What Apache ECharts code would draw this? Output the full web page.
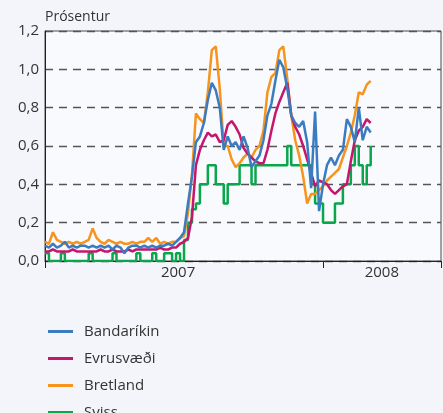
<!DOCTYPE html>
<html>
<head>
<meta charset="utf-8">
<script src="https://cdn.jsdelivr.net/npm/echarts@6/dist/echarts.min.js"></script>
<style>
  html, body { margin: 0; padding: 0; background: #f3f5fa; }
  #chart { width: 443px; height: 413px; }
</style>
</head>
<body>
<div id="chart"></div>
<script>
// sampling: one value every 5 days, starting 16 Jan 2007 (day 15 from 1 Jan 2007)
var startDay = 15
var stepDays = 5

var bandarikin = [
  0.08, 0.07, 0.09, 0.07, 0.08, 0.10, 0.07, 0.08, 0.07, 0.08,
  0.08, 0.07, 0.08, 0.07, 0.08, 0.07, 0.08, 0.06, 0.08, 0.07,
  0.04, 0.07, 0.08, 0.08, 0.07, 0.08, 0.07, 0.08, 0.07, 0.08,
  0.08, 0.09, 0.08, 0.10, 0.12, 0.15, 0.30, 0.44, 0.62, 0.65,
  0.72, 0.84, 0.93, 0.89, 0.80, 0.58, 0.65, 0.60, 0.62, 0.58,
  0.65, 0.59, 0.49, 0.52, 0.55, 0.63, 0.76, 0.82, 0.94, 1.05,
  1.01, 0.90, 0.76, 0.72, 0.70, 0.73, 0.62, 0.38, 0.78, 0.26,
  0.40, 0.50, 0.54, 0.50, 0.55, 0.58, 0.74, 0.70, 0.62, 0.80,
  0.63, 0.70, 0.67
]
var evrusvaedi = [
  0.05, 0.05, 0.06, 0.05, 0.05, 0.05, 0.05, 0.06, 0.05, 0.05,
  0.05, 0.05, 0.05, 0.05, 0.06, 0.05, 0.05, 0.06, 0.05, 0.05,
  0.05, 0.06, 0.05, 0.06, 0.06, 0.06, 0.06, 0.06, 0.06, 0.07,
  0.06, 0.06, 0.07, 0.07, 0.09, 0.10, 0.12, 0.23, 0.50, 0.58,
  0.63, 0.67, 0.65, 0.66, 0.62, 0.63, 0.71, 0.73, 0.70, 0.66,
  0.59, 0.56, 0.54, 0.52, 0.51, 0.51, 0.58, 0.68, 0.77, 0.83,
  0.88, 0.93, 0.76, 0.70, 0.66, 0.60, 0.53, 0.46, 0.39, 0.42,
  0.41, 0.40, 0.37, 0.35, 0.37, 0.39, 0.40, 0.52, 0.63, 0.68,
  0.70, 0.74, 0.72
]
var bretland = [
  0.10, 0.09, 0.15, 0.11, 0.10, 0.09, 0.10, 0.09, 0.10, 0.09,
  0.10, 0.11, 0.17, 0.12, 0.10, 0.09, 0.11, 0.10, 0.09, 0.10,
  0.09, 0.09, 0.10, 0.09, 0.10, 0.10, 0.12, 0.10, 0.12, 0.09,
  0.10, 0.09, 0.10, 0.10, 0.12, 0.13, 0.25, 0.45, 0.77, 0.74,
  0.72, 0.88, 1.10, 1.12, 0.90, 0.60, 0.60, 0.53, 0.49, 0.51,
  0.54, 0.56, 0.54, 0.58, 0.60, 0.68, 0.88, 0.96, 0.98, 1.10,
  1.12, 0.95, 0.76, 0.63, 0.55, 0.44, 0.30, 0.35, 0.35, 0.37,
  0.39, 0.42, 0.44, 0.46, 0.48, 0.54, 0.60, 0.67, 0.76, 0.88,
  0.87, 0.92, 0.94
]
var sviss = [
  0.04, 0.00, 0.00, 0.00, 0.04, 0.00, 0.00, 0.00, 0.00, 0.00,
  0.00, 0.04, 0.00, 0.00, 0.00, 0.00, 0.00, 0.04, 0.00, 0.00,
  0.00, 0.00, 0.00, 0.04, 0.00, 0.00, 0.00, 0.04, 0.00, 0.00,
  0.04, 0.04, 0.00, 0.04, 0.00, 0.11, 0.20, 0.27, 0.30, 0.40,
  0.40, 0.50, 0.50, 0.40, 0.40, 0.30, 0.40, 0.40, 0.40, 0.50,
  0.50, 0.50, 0.40, 0.50, 0.50, 0.50, 0.50, 0.50, 0.50, 0.50,
  0.50, 0.60, 0.50, 0.50, 0.50, 0.50, 0.50, 0.40, 0.30, 0.30,
  0.20, 0.20, 0.20, 0.30, 0.30, 0.40, 0.40, 0.50, 0.60, 0.50,
  0.40, 0.50, 0.60
]

var seriesNames = ['Bandaríkin', 'Evrusvæði', 'Bretland', 'Sviss']
var seriesColors = ['#3b7cc0', '#c3166c', '#f7941d', '#0aa64b']
// x axis in days from 1 Jan 2007
var xMin = 15
var xMax = 513.5
var yearTicks = [15, 365, 513.5]
var yearLabelPos = [182.5, 439]

function pairs(values) {
  return values.map(function (v, i) {
    return [startDay + i * stepDays, v]
  })
}

// one legend block per series, stacked under the chart (last one runs off the bottom)
var legends = seriesNames.map(function (name, i) {
  return {
    orient: 'vertical',
    left: 43,
    top: 318 + i * 27,
    icon: 'rect',
    itemWidth: 25,
    itemHeight: 3,
    textStyle: {
      fontSize: 15,
      lineHeight: 17,
      color: '#333',
      padding: [0, 0, 0, 6]
    },
    data: [name]
  }
})

var chart = echarts.init(document.getElementById('chart'))
chart.setOption({
  backgroundColor: '#f3f5fa',
  animation: false,
  color: seriesColors,
  textStyle: { fontFamily: 'Open Sans' },
  grid: {
    left: 45,
    right: 2,
    top: 31,
    bottom: 152,
    show: true,
    backgroundColor: '#f9fafd',
    borderColor: '#4a4a4a',
    borderWidth: 1
  },
  legend: legends,
  xAxis: {
    type: 'value',
    min: xMin,
    max: xMax,
    splitLine: { show: false },
    axisLine: { lineStyle: { color: '#222', width: 1 } },
    axisTick: {
      customValues: yearTicks,
      length: 7,
      lineStyle: { color: '#222' }
    },
    axisLabel: {
      customValues: yearLabelPos,
      formatter: function (v) { return v < 365 ? '2007' : '2008' },
      fontSize: 15,
      color: '#333',
      margin: 4
    }
  },
  yAxis: {
    type: 'value',
    min: 0,
    max: 1.2,
    interval: 0.2,
    name: 'Prósentur',
    nameLocation: 'end',
    nameGap: 7,
    nameTextStyle: { align: 'left', fontSize: 14, color: '#333' },
    axisLine: { show: true, lineStyle: { color: '#222' } },
    axisTick: { show: false },
    axisLabel: {
      fontSize: 15,
      color: '#333',
      margin: 6,
      formatter: function (v) { return v.toFixed(1).replace('.', ',') }
    },
    splitLine: {
      show: true,
      lineStyle: { color: '#555', width: 1.3, type: [8, 6] }
    }
  },
  series: [
    { name: seriesNames[0], type: 'line', data: pairs(bandarikin), showSymbol: false, lineStyle: { width: 2.5 }, z: 5 },
    { name: seriesNames[1], type: 'line', data: pairs(evrusvaedi), showSymbol: false, lineStyle: { width: 2.5 }, z: 3 },
    { name: seriesNames[2], type: 'line', data: pairs(bretland), showSymbol: false, lineStyle: { width: 2.5 }, z: 2 },
    { name: seriesNames[3], type: 'line', step: 'end', data: pairs(sviss), showSymbol: false, lineStyle: { width: 2.5 }, z: 1 }
  ]
})
</script>
</body>
</html>
